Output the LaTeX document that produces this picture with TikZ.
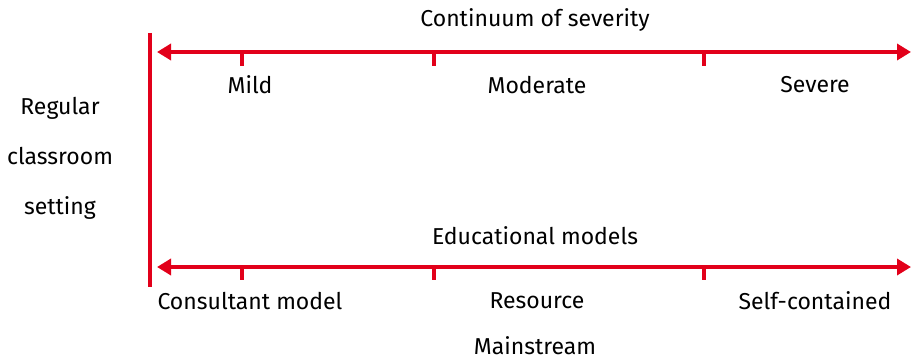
\documentclass[tikz,border=0pt]{standalone}
\usepackage{fontspec}
\setmainfont{Fira Sans}
\usetikzlibrary{arrows.meta}
\definecolor{sevred}{RGB}{226,0,26}

\begin{document}
\begin{tikzpicture}[x=1pt,y=-1pt,
    tag/.style={font=\fontsize{23}{27}\selectfont, inner sep=0pt},
    scaleline/.style={draw=sevred, line width=4pt,
      {Triangle[length=14pt,width=16pt]}-{Triangle[length=14pt,width=16pt]}},
    tickline/.style={draw=sevred, line width=4pt}]
   \useasboundingbox (0,0) rectangle (911,361);
   % divider
   \coordinate (V1) at (150,33);
   \coordinate (V2) at (150,287);
   \draw[tickline] (V1) -- (V2);
   % severity scale
   \node[tag] (title1) at (535,20) {Continuum of severity};
   \coordinate (S1) at (157,52);
   \coordinate (S2) at (911,52);
   \draw[scaleline] (S1) -- (S2);
   \coordinate (T1) at (242,52);
   \coordinate (T2) at (434,52);
   \coordinate (T3) at (704,52);
   \draw[tickline] (T1) -- ++(0,14);
   \draw[tickline] (T2) -- ++(0,14);
   \draw[tickline] (T3) -- ++(0,14);
   \node[tag] (mild) at (250,85) {Mild};
   \node[tag] (moderate) at (537,85) {Moderate};
   \node[tag] (severe) at (815,85) {Severe};
   \node[tag, align=center, execute at begin node=\setlength{\baselineskip}{50pt}]
     (regular) at (60,158) {Regular\\classroom\\setting};
   % models scale
   \node[tag] (title2) at (535,236) {Educational models};
   \coordinate (M1) at (157,267);
   \coordinate (M2) at (911,267);
   \draw[scaleline] (M1) -- (M2);
   \coordinate (U1) at (242,267);
   \coordinate (U2) at (434,267);
   \coordinate (U3) at (704,267);
   \draw[tickline] (U1) -- ++(0,13);
   \draw[tickline] (U2) -- ++(0,13);
   \draw[tickline] (U3) -- ++(0,13);
   \node[tag] (consultant) at (250,301) {Consultant model};
   \node[tag] (resource) at (537,301) {Resource};
   \node[tag] (mainstream) at (535,346) {Mainstream};
   \node[tag] (selfcont) at (815,301) {Self-contained};
 \end{tikzpicture}
\end{document}
